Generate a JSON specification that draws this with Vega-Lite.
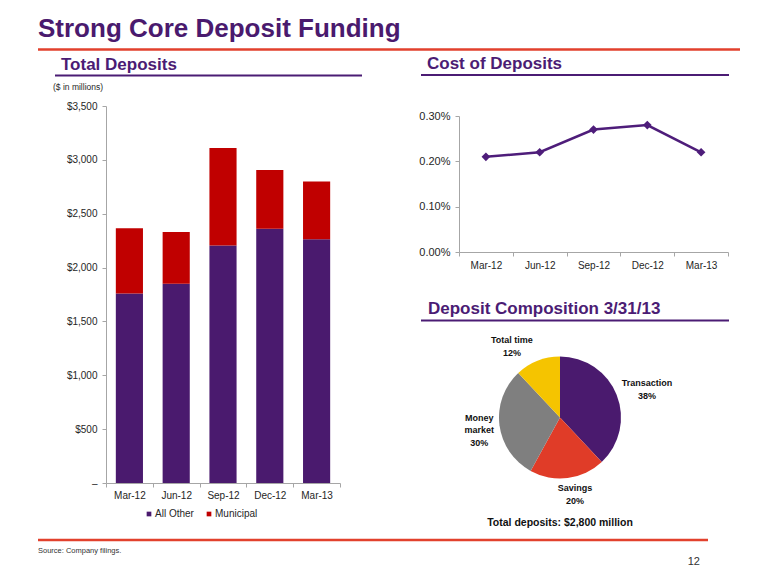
{
  "$schema": "https://vega.github.io/schema/vega-lite/v6.json",
  "width": 780,
  "height": 585,
  "autosize": {"type": "fit", "contains": "padding"},
  "padding": 0,
  "background": "white",
  "config": {
    "view": {"stroke": null},
    "font": "Liberation Sans",
    "axis": {"labelFont": "Liberation Sans", "grid": false},
    "legend": {"labelFont": "Liberation Sans"}
  },
  "resolve": {
    "scale": {"x": "independent", "y": "independent", "color": "independent", "theta": "independent"},
    "axis": {"x": "independent", "y": "independent"},
    "legend": {"color": "independent"}
  },
  "layer": [
    {
      "data": {"values": [
        {"quarter": "Mar-12", "series": "All Other", "amount": 1760},
        {"quarter": "Mar-12", "series": "Municipal", "amount": 605},
        {"quarter": "Jun-12", "series": "All Other", "amount": 1850},
        {"quarter": "Jun-12", "series": "Municipal", "amount": 480},
        {"quarter": "Sep-12", "series": "All Other", "amount": 2205},
        {"quarter": "Sep-12", "series": "Municipal", "amount": 905},
        {"quarter": "Dec-12", "series": "All Other", "amount": 2360},
        {"quarter": "Dec-12", "series": "Municipal", "amount": 545},
        {"quarter": "Mar-13", "series": "All Other", "amount": 2262},
        {"quarter": "Mar-13", "series": "Municipal", "amount": 538}
      ]},
      "mark": {"type": "bar", "width": {"band": 0.58}},
      "encoding": {
        "x": {
          "field": "quarter", "type": "nominal",
          "sort": ["Mar-12", "Jun-12", "Sep-12", "Dec-12", "Mar-13"],
          "scale": {"type": "band", "range": [106, 340], "paddingInner": 0, "paddingOuter": 0},
          "axis": {"orient": "bottom", "offset": -102, "title": null, "labelAngle": 0, "tickBand": "extent",
                   "tickSize": 4, "tickColor": "#A6A6A6", "domainColor": "#A6A6A6", "labelFontSize": 10,
                   "labelColor": "#262626", "labelPadding": 3}
        },
        "y": {
          "field": "amount", "type": "quantitative", "stack": "zero",
          "scale": {"domain": [0, 3500], "range": [483, 106], "nice": false},
          "axis": {"orient": "left", "offset": -106, "title": null,
                   "values": [0, 500, 1000, 1500, 2000, 2500, 3000, 3500],
                   "labelExpr": "datum.value == 0 ? '–' : '$' + format(datum.value, ',')",
                   "tickSize": 4, "tickColor": "#A6A6A6", "domainColor": "#A6A6A6", "labelFontSize": 10,
                   "labelColor": "#262626", "labelPadding": 5}
        },
        "color": {
          "field": "series", "type": "nominal",
          "scale": {"domain": ["All Other", "Municipal"], "range": ["#4A1A6E", "#C00000"]},
          "legend": {"orient": "none", "legendX": 144, "legendY": 509, "direction": "horizontal", "title": null,
                     "symbolType": "square", "symbolSize": 22, "symbolStrokeWidth": 0, "labelFontSize": 10,
                     "labelColor": "#262626", "columnPadding": 10, "labelOffset": 1, "padding": 0}
        },
        "order": {"field": "series", "sort": "ascending"}
      }
    },
    {
      "data": {"values": [
        {"quarter": "Mar-12", "cost": 0.21},
        {"quarter": "Jun-12", "cost": 0.22},
        {"quarter": "Sep-12", "cost": 0.27},
        {"quarter": "Dec-12", "cost": 0.28},
        {"quarter": "Mar-13", "cost": 0.22}
      ]},
      "mark": {"type": "line", "color": "#4E1D7A", "strokeWidth": 2.5,
               "point": {"shape": "diamond", "size": 75, "filled": true, "color": "#4E1D7A", "opacity": 1}},
      "encoding": {
        "x": {
          "field": "quarter", "type": "nominal", "bandPosition": 0.5,
          "sort": ["Mar-12", "Jun-12", "Sep-12", "Dec-12", "Mar-13"],
          "scale": {"type": "band", "range": [459, 728], "paddingInner": 0, "paddingOuter": 0},
          "axis": {"orient": "bottom", "offset": -333, "title": null, "labelAngle": 0, "tickBand": "extent",
                   "tickSize": 4, "tickColor": "#A6A6A6", "domainColor": "#A6A6A6", "labelFontSize": 10,
                   "labelColor": "#262626", "labelPadding": 4}
        },
        "y": {
          "field": "cost", "type": "quantitative",
          "scale": {"domain": [0, 0.3], "range": [252, 116], "nice": false},
          "axis": {"orient": "left", "offset": -459, "title": null, "values": [0, 0.1, 0.2, 0.3],
                   "labelExpr": "format(datum.value, '.2f') + '%'",
                   "tickSize": 4, "tickColor": "#A6A6A6", "domainColor": "#A6A6A6", "labelFontSize": 11,
                   "labelColor": "#262626", "labelPadding": 5}
        }
      }
    },
    {
      "data": {"values": [
        {"type": "Transaction", "pct": 38, "slice": 1, "label": "Transaction\n38%"},
        {"type": "Savings", "pct": 20, "slice": 2, "label": "Savings\n20%"},
        {"type": "Money market", "pct": 30, "slice": 3, "label": "Money\nmarket\n30%"},
        {"type": "Total time", "pct": 12, "slice": 4, "label": "Total time\n12%"}
      ]},
      "encoding": {
        "theta": {"field": "pct", "type": "quantitative", "stack": true},
        "order": {"field": "slice", "sort": "ascending"},
        "color": {
          "field": "type", "type": "nominal",
          "scale": {"domain": ["Transaction", "Savings", "Money market", "Total time"],
                    "range": ["#4A1A6E", "#E03C28", "#7F7F7F", "#F5C400"]},
          "legend": null
        }
      },
      "layer": [
        {"mark": {"type": "arc", "outerRadius": 61, "x": 560, "y": 417.5}},
        {"mark": {"type": "text", "radius": 93.5, "x": 560, "y": 417.5, "fontSize": 9, "fontWeight": "bold",
                  "lineBreak": "\n", "lineHeight": 13},
         "encoding": {"text": {"condition": {"test": "datum.type == 'Transaction'", "field": "label"}, "value": ""},
                      "color": {"value": "#111111"}}},
        {"mark": {"type": "text", "radius": 71, "dx": 6, "x": 560, "y": 417.5, "fontSize": 9, "fontWeight": "bold",
                  "lineBreak": "\n", "lineHeight": 13},
         "encoding": {"text": {"condition": {"test": "datum.type == 'Savings'", "field": "label"}, "value": ""},
                      "color": {"value": "#111111"}}},
        {"mark": {"type": "text", "radius": 81.5, "dy": -10, "x": 560, "y": 417.5, "fontSize": 9, "fontWeight": "bold",
                  "lineBreak": "\n", "lineHeight": 12.5},
         "encoding": {"text": {"condition": {"test": "datum.type == 'Money market'", "field": "label"}, "value": ""},
                      "color": {"value": "#111111"}}},
        {"mark": {"type": "text", "radius": 83, "dx": -17.5, "x": 560, "y": 417.5, "fontSize": 9, "fontWeight": "bold",
                  "lineBreak": "\n", "lineHeight": 13},
         "encoding": {"text": {"condition": {"test": "datum.type == 'Total time'", "field": "label"}, "value": ""},
                      "color": {"value": "#111111"}}}
      ]
    },
    {
      "data": {"values": [{}]},
      "layer": [
        {"mark": {"type": "text", "align": "left", "baseline": "alphabetic", "fontSize": 26, "fontWeight": "bold", "color": "#4A1A6E", "text": "Strong Core Deposit Funding"},
         "encoding": {"x": {"value": 38}, "y": {"value": 37}}},
        {"mark": {"type": "text", "align": "left", "baseline": "alphabetic", "fontSize": 17, "fontWeight": "bold", "color": "#4B1C74", "text": "Total Deposits"},
         "encoding": {"x": {"value": 61}, "y": {"value": 70}}},
        {"mark": {"type": "text", "align": "left", "baseline": "alphabetic", "fontSize": 8.5, "color": "#262626", "text": "($ in millions)"},
         "encoding": {"x": {"value": 53}, "y": {"value": 90}}},
        {"mark": {"type": "text", "align": "left", "baseline": "alphabetic", "fontSize": 17, "fontWeight": "bold", "color": "#4B1C74", "text": "Cost of Deposits"},
         "encoding": {"x": {"value": 427}, "y": {"value": 68.5}}},
        {"mark": {"type": "text", "align": "left", "baseline": "alphabetic", "fontSize": 17, "fontWeight": "bold", "color": "#4B1C74", "text": "Deposit Composition 3/31/13"},
         "encoding": {"x": {"value": 428}, "y": {"value": 313.5}}},
        {"mark": {"type": "text", "align": "center", "baseline": "alphabetic", "fontSize": 10.5, "fontWeight": "bold", "color": "#111111", "text": "Total deposits: $2,800 million"},
         "encoding": {"x": {"value": 560}, "y": {"value": 525.5}}},
        {"mark": {"type": "text", "align": "left", "baseline": "alphabetic", "fontSize": 7.5, "color": "#333333", "text": "Source:  Company filings."},
         "encoding": {"x": {"value": 38}, "y": {"value": 553}}},
        {"mark": {"type": "text", "align": "right", "baseline": "alphabetic", "fontSize": 11, "color": "#333333", "text": "12"},
         "encoding": {"x": {"value": 700}, "y": {"value": 565}}},
        {"mark": {"type": "rule", "color": "#E2412D", "strokeWidth": 2.5},
         "encoding": {"x": {"value": 38}, "x2": {"value": 740}, "y": {"value": 49.5}}},
        {"mark": {"type": "rule", "color": "#4B1C74", "strokeWidth": 2},
         "encoding": {"x": {"value": 55}, "x2": {"value": 362}, "y": {"value": 75.5}}},
        {"mark": {"type": "rule", "color": "#4B1C74", "strokeWidth": 2},
         "encoding": {"x": {"value": 421}, "x2": {"value": 729}, "y": {"value": 75}}},
        {"mark": {"type": "rule", "color": "#4B1C74", "strokeWidth": 2},
         "encoding": {"x": {"value": 421}, "x2": {"value": 729}, "y": {"value": 320.5}}},
        {"mark": {"type": "rule", "color": "#E2412D", "strokeWidth": 2.5},
         "encoding": {"x": {"value": 38}, "x2": {"value": 708}, "y": {"value": 540}}}
      ]
    }
  ]
}
